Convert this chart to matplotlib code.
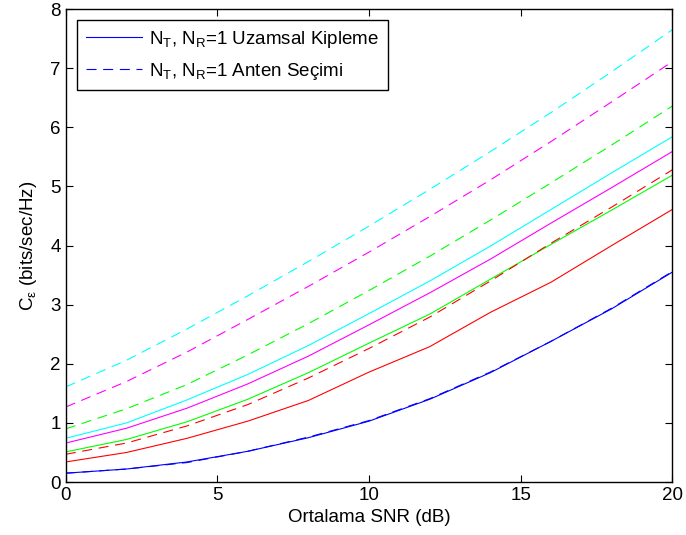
import matplotlib.pyplot as plt

plt.rcParams['font.family'] = 'Liberation Sans'
plt.rcParams['mathtext.fontset'] = 'custom'
plt.rcParams['mathtext.rm'] = 'Liberation Sans'
plt.rcParams['mathtext.it'] = 'Liberation Sans'

snr = [0, 2, 4, 6, 8, 10, 12, 14, 16, 18, 20]

# uzamsal kipleme (solid)
sm_blue = [0.15, 0.22, 0.34, 0.52, 0.75, 1.03, 1.40, 1.85, 2.38, 2.93, 3.55]
sm_red = [0.34, 0.50, 0.74, 1.03, 1.38, 1.86, 2.29, 2.87, 3.38, 4.00, 4.61]
sm_green = [0.51, 0.72, 1.02, 1.40, 1.85, 2.35, 2.84, 3.43, 4.02, 4.60, 5.19]
sm_magenta = [0.66, 0.91, 1.25, 1.66, 2.13, 2.66, 3.20, 3.77, 4.38, 4.98, 5.59]
sm_cyan = [0.74, 1.00, 1.39, 1.82, 2.31, 2.85, 3.40, 3.99, 4.61, 5.23, 5.84]

# anten secimi (dashed)
as_blue = [0.15, 0.22, 0.33, 0.52, 0.76, 1.04, 1.41, 1.86, 2.38, 2.94, 3.56]
as_red = [0.47, 0.66, 0.95, 1.31, 1.76, 2.26, 2.79, 3.40, 4.04, 4.65, 5.28]
as_green = [0.90, 1.24, 1.65, 2.15, 2.68, 3.24, 3.82, 4.43, 5.06, 5.70, 6.36]
as_magenta = [1.27, 1.70, 2.20, 2.75, 3.31, 3.89, 4.49, 5.11, 5.76, 6.43, 7.11]
as_cyan = [1.61, 2.06, 2.59, 3.15, 3.73, 4.33, 4.95, 5.59, 6.25, 6.94, 7.65]

fig = plt.figure(figsize=(6.86, 5.35), dpi=100)
ax = fig.add_axes([0.096, 0.099, 0.884, 0.884])

dash = (0, (9, 6))
lw = 0.8
ax.plot(snr, sm_blue, color='#0000ff', lw=lw,
        label=r'N$_\mathregular{T}$, N$_\mathregular{R}$=1 Uzamsal Kipleme')
ax.plot(snr, as_blue, color='#0000ff', lw=lw, linestyle=dash,
        label=r'N$_\mathregular{T}$, N$_\mathregular{R}$=1 Anten Seçimi')
for ys, c in [(sm_red, '#ff0000'), (sm_green, '#00ff00'),
              (sm_magenta, '#ff00ff'), (sm_cyan, '#00ffff')]:
    ax.plot(snr, ys, color=c, lw=lw)
for ys, c in [(as_red, '#ff0000'), (as_green, '#00ff00'),
              (as_magenta, '#ff00ff'), (as_cyan, '#00ffff')]:
    ax.plot(snr, ys, color=c, lw=lw, linestyle=dash)

ax.set_xlim(0, 20)
ax.set_ylim(0, 8)
ax.set_xticks([0, 5, 10, 15, 20])
ax.set_yticks(range(9))
ax.tick_params(direction='in', top=True, right=True, length=5, labelsize=13.5, width=0.8)
for s in ax.spines.values():
    s.set_linewidth(1.0)

ax.set_xlabel('Ortalama SNR (dB)', fontsize=13.5, labelpad=4)
ax.set_ylabel(r'C$_\mathregular{ε}$ (bits/sec/Hz)', fontsize=13.5, labelpad=8)

leg = ax.legend(loc='upper left', fontsize=13.5, fancybox=False, edgecolor='black',
                framealpha=1, handlelength=3.0, handletextpad=0.4, borderaxespad=0.6,
                labelspacing=0.6, borderpad=0.45)
leg.get_frame().set_linewidth(1.0)

fig.savefig('out.png', dpi=100)
